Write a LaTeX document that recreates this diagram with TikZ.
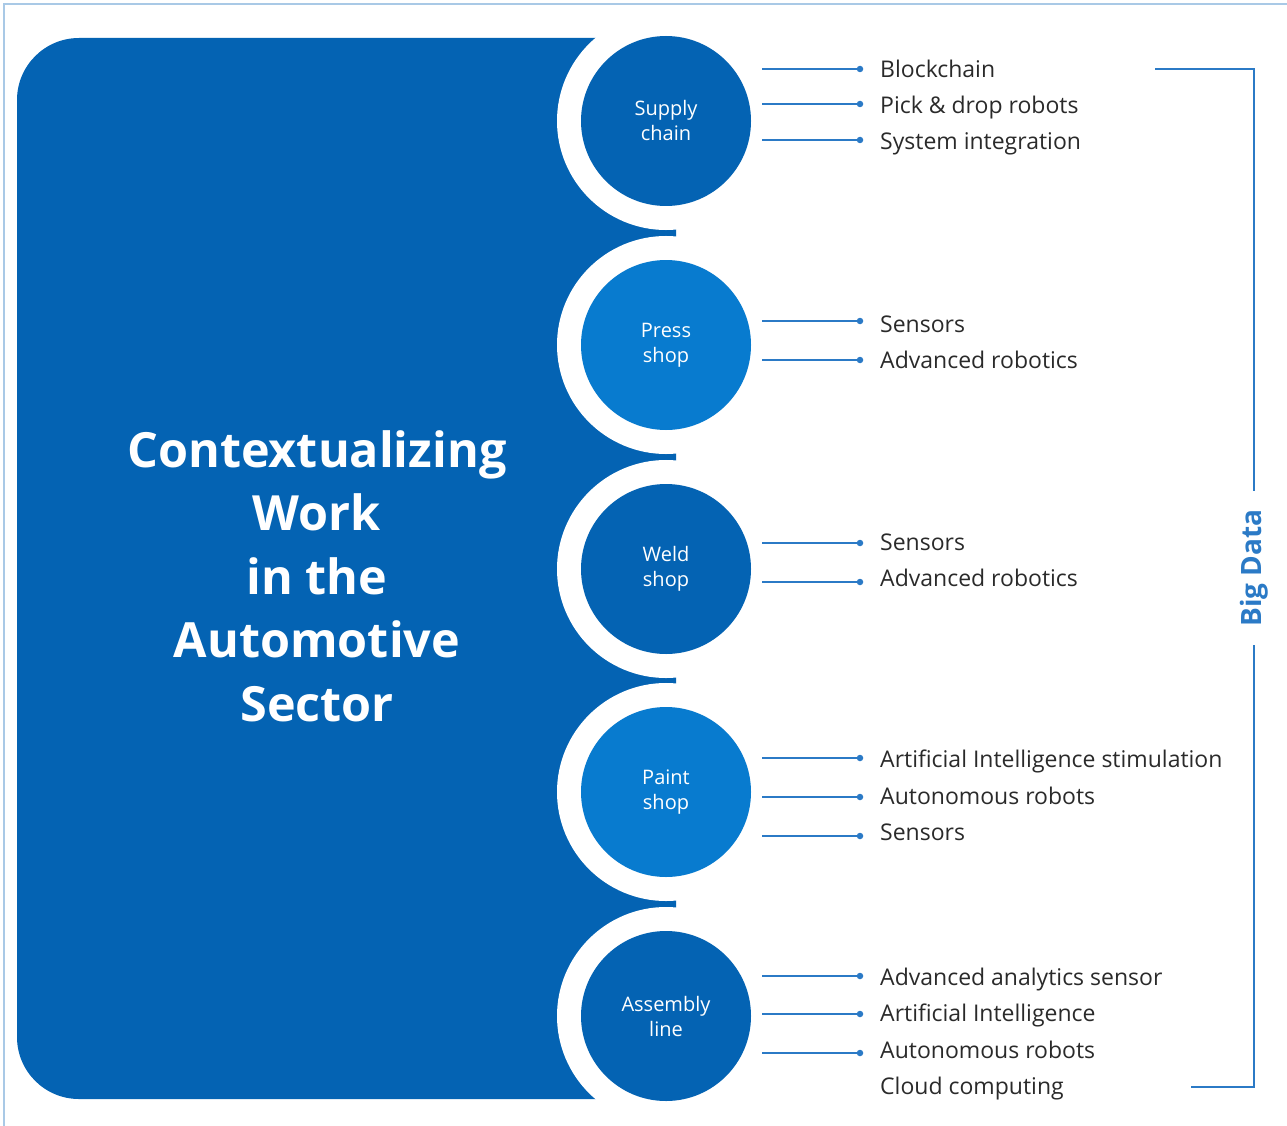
\documentclass[tikz,border=0pt]{standalone}
\usepackage{fontspec}
\setmainfont{Open Sans}
\definecolor{panelblue}{HTML}{0463B3}
\definecolor{stageblue}{HTML}{087BCF}
\definecolor{linkblue}{HTML}{2B7AC6}
\definecolor{frameblue}{HTML}{A9C9E6}
\definecolor{textgray}{HTML}{2A2A2A}
\begin{document}
\begin{tikzpicture}[
  x=1pt, y=-1pt,
  stage/.style={circle, fill=#1, minimum size=170pt, inner sep=0pt, text=white, align=center,
    font=\fontsize{20}{25}\selectfont, preaction={draw=white, line width=48pt}},
  stage/.default=panelblue,
  item/.style={anchor=base west, text=textgray, inner sep=0pt, font=\fontsize{23}{28}\selectfont},
  dot/.style={circle, fill=linkblue, inner sep=0pt, minimum size=6.5pt},
  link/.style={line width=1.5pt, draw=linkblue},
  bracket/.style={line width=2pt, draw=linkblue}
]
  \useasboundingbox (0,0) rectangle (1287,1126);

  % frame
  \draw[frameblue, line width=1.5pt] (4,1126) -- (4,4) -- (1287,4);

  % panel with title
  \fill[panelblue, rounded corners=62pt] (17,38) rectangle (676,1099);
  \node[text=white, align=center, font=\bfseries\fontsize{48.5}{63.5}\selectfont] (title) at (317,576)
    {Contextualizing\\Work\\in the\\Automotive\\Sector};

  % stages
  \node[stage] (supply) at (666,121) {Supply\\chain};
  \node[stage=stageblue] (press) at (666,345) {Press\\shop};
  \node[stage] (weld) at (666,569) {Weld\\shop};
  \node[stage=stageblue] (paint) at (666,792) {Paint\\shop};
  \node[stage] (assembly) at (666,1016) {Assembly\\line};

  % supply chain
  \coordinate (s1) at (762,69);  \node[dot] (d1) at (860,69) {};
  \coordinate (s2) at (762,104); \node[dot] (d2) at (860,104) {};
  \coordinate (s3) at (762,140); \node[dot] (d3) at (860,140) {};
  \node[item] (t1) at (880,78) {Blockchain};
  \node[item] (t2) at (880,114) {Pick \& drop robots};
  \node[item] (t3) at (880,150) {System integration};

  % press shop
  \coordinate (s4) at (762,321); \node[dot] (d4) at (860,321) {};
  \coordinate (s5) at (762,360); \node[dot] (d5) at (860,360) {};
  \node[item] (t4) at (880,332) {Sensors};
  \node[item] (t5) at (880,368) {Advanced robotics};

  % weld shop
  \coordinate (s6) at (762,543); \node[dot] (d6) at (860,543) {};
  \coordinate (s7) at (762,582); \node[dot] (d7) at (860,582) {};
  \node[item] (t6) at (880,550) {Sensors};
  \node[item] (t7) at (880,586) {Advanced robotics};

  % paint shop
  \coordinate (s8) at (762,758);  \node[dot] (d8) at (860,758) {};
  \coordinate (s9) at (762,797);  \node[dot] (d9) at (860,797) {};
  \coordinate (s10) at (762,836); \node[dot] (d10) at (860,836) {};
  \node[item] (t8) at (880,767) {Artificial Intelligence stimulation};
  \node[item] (t9) at (880,804) {Autonomous robots};
  \node[item] (t10) at (880,840) {Sensors};

  % assembly line
  \coordinate (s11) at (762,976);  \node[dot] (d11) at (860,976) {};
  \coordinate (s12) at (762,1014); \node[dot] (d12) at (860,1014) {};
  \coordinate (s13) at (762,1053); \node[dot] (d13) at (860,1053) {};
  \node[item] (t11) at (880,985) {Advanced analytics sensor};
  \node[item] (t12) at (880,1021) {Artificial Intelligence};
  \node[item] (t13) at (880,1058) {Autonomous robots};
  \node[item] (t14) at (880,1094) {Cloud computing};

  \draw[link] (s1) -- (d1);
  \draw[link] (s2) -- (d2);
  \draw[link] (s3) -- (d3);
  \draw[link] (s4) -- (d4);
  \draw[link] (s5) -- (d5);
  \draw[link] (s6) -- (d6);
  \draw[link] (s7) -- (d7);
  \draw[link] (s8) -- (d8);
  \draw[link] (s9) -- (d9);
  \draw[link] (s10) -- (d10);
  \draw[link] (s11) -- (d11);
  \draw[link] (s12) -- (d12);
  \draw[link] (s13) -- (d13);

  % big data bracket
  \node[rotate=90, text=linkblue, inner xsep=18pt, font=\bfseries\fontsize{28}{33}\selectfont] (bigdata) at (1254,568) {Big Data};
  \coordinate (btop) at (1155,69);
  \coordinate (bbot) at (1191,1087);
  \draw[bracket] (btop) -| (bigdata.east);
  \draw[bracket] (bbot) -| (bigdata.west);

\end{tikzpicture}
\end{document}
